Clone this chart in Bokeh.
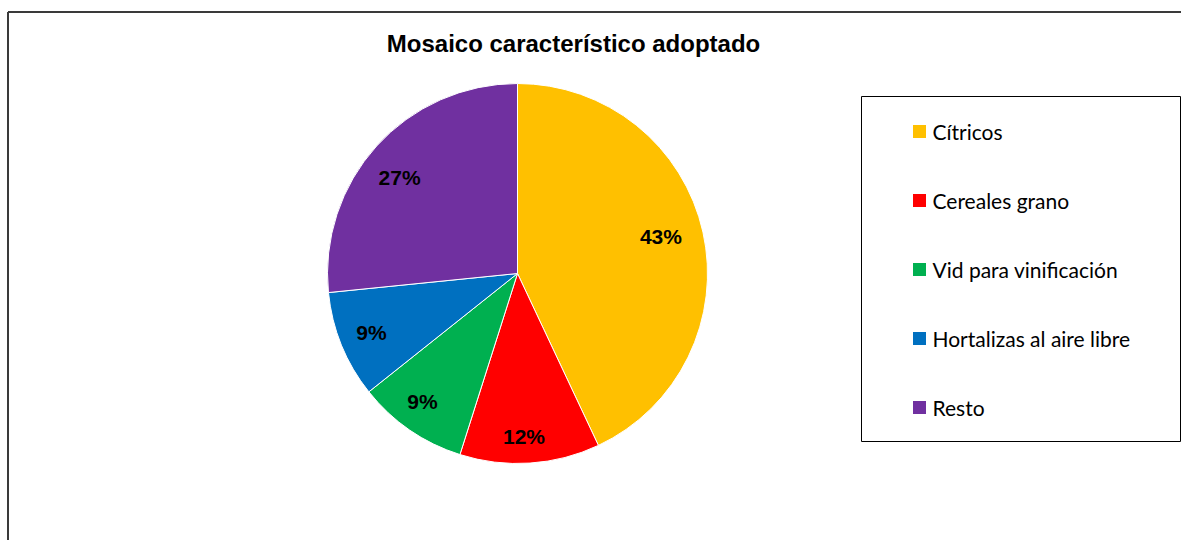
import numpy as np
from bokeh.plotting import figure
from bokeh.models import Range1d, ColumnDataSource
from bokeh.core.properties import value
from bokeh.embed import file_html
from bokeh.resources import INLINE

# ---- data ----
title_text = "Mosaico característico adoptado"
categories = ["Cítricos", "Cereales grano", "Vid para vinificación", "Hortalizas al aire libre", "Resto"]
shares = [43.0, 11.9, 9.4, 9.1, 26.6]
colors = ["#FFC000", "#FF0000", "#00B050", "#0070C0", "#7030A0"]

# ---- layout ----
W, H = 1181, 540
def sx(X):  # screen x -> data x
    return X
def sy(Y):  # screen y -> data y
    return H - Y

p = figure(width=W, height=H, x_range=Range1d(0, W), y_range=Range1d(0, H),
           output_backend="svg", toolbar_location=None, min_border=0)
p.axis.visible = False
p.grid.visible = False
p.outline_line_color = None
p.background_fill_color = "white"
p.border_fill_color = "white"

# outer chart frame (left and top edges visible)
p.segment(x0=[sx(7.5), sx(7.5)], y0=[sy(11.5), sy(11.5)], x1=[sx(7.5), sx(1300)], y1=[sy(700), sy(11.5)],
          line_color="#3a3a3a", line_width=2)

# title
p.text(x=[sx(573)], y=[sy(43)], text=[title_text], text_font=value("Liberation Sans"),
       text_font_style="bold", text_font_size="24px", text_align="center", text_baseline="middle",
       text_color="black")

# pie
cx, cy, r = sx(517), sy(273), 190
vals = np.array(shares, dtype=float)
frac = vals / vals.sum()
cum = np.concatenate([[0], np.cumsum(frac)])
start = np.pi / 2 - cum[:-1] * 2 * np.pi
end = np.pi / 2 - cum[1:] * 2 * np.pi
mid = (start + end) / 2
src = ColumnDataSource(dict(start=start, end=end, color=colors, cat=categories))
p.wedge(x=cx, y=cy, radius=r, start_angle="start", end_angle="end", direction="clock",
        fill_color="color", line_color="white", line_width=1, source=src)

label_r = np.array([0.78, 0.86, 0.84, 0.83, 0.80]) * r
label_da = np.radians([2, -1.5, -2, 0, 3])
labels = [f"{round(f*100):.0f}%" for f in frac]
p.text(x=cx + label_r * np.cos(mid + label_da), y=cy + label_r * np.sin(mid + label_da), text=labels,
       text_font=value("Liberation Sans"), text_font_style="bold", text_font_size="21px",
       text_align="center", text_baseline="middle", text_color="black")

# legend box
p.quad(left=[sx(861)], right=[sx(1180)], top=[sy(96)], bottom=[sy(441)],
       fill_color="white", line_color="black", line_width=1)
ys = [sy(131 + 69 * i) for i in range(len(categories))]
p.rect(x=[sx(919)] * len(categories), y=ys, width=13, height=13, fill_color=colors, line_color=None)
p.text(x=[sx(932)] * len(categories), y=ys, text=categories, text_font=value("Lato"),
       text_font_size="21px", text_align="left", text_baseline="middle", text_color="black")

open("out.html", "w").write(file_html(p, INLINE))
